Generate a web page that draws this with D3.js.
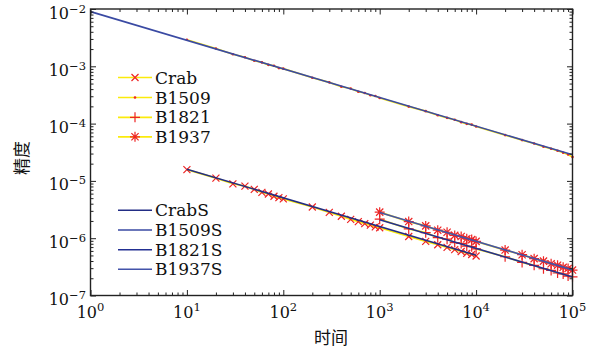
<!DOCTYPE html>
<html>
<head>
<meta charset="utf-8">
<script src="https://cdn.jsdelivr.net/npm/d3@7"></script>
<style>
  body { margin: 0; background: #fff; }
  svg text { font-family: "DejaVu Serif", serif; fill: #111; }
</style>
</head>
<body>
<div id="chart"></div>
<script>
// ---- datos ----
const crabTimes = [10, 20, 30, 40, 50, 60, 70, 80, 90, 100,
  200, 300, 400, 500, 600, 700, 800, 900, 1000,
  2000, 3000, 4000, 5000, 6000, 7000, 8000, 9000, 10000]
const crabValues = [1.57e-5, 1.12e-5, 8.9e-6, 8.1e-6, 7.1e-6, 6.3e-6, 5.9e-6, 5.4e-6, 5.1e-6, 4.85e-6,
  3.5e-6, 2.82e-6, 2.42e-6, 2.13e-6, 1.95e-6, 1.80e-6, 1.69e-6, 1.58e-6, 1.52e-6,
  1.07e-6, 8.8e-7, 7.7e-7, 6.9e-7, 6.3e-7, 5.85e-7, 5.45e-7, 5.2e-7, 4.9e-7]

const b1509Times = [10, 20, 30, 40, 50, 60, 70, 80, 90, 100,
  200, 300, 400, 500, 600, 700, 800, 900, 1000,
  2000, 3000, 4000, 5000, 6000, 7000, 8000, 9000, 10000,
  20000, 30000, 40000, 50000, 60000, 70000, 80000, 90000, 100000]
const b1509Values = [2.9e-3, 2.05e-3, 1.62e-3, 1.44e-3, 1.25e-3, 1.17e-3, 1.06e-3, 1.02e-3, 9.3e-4, 9.1e-4,
  6.3e-4, 5.25e-4, 4.4e-4, 4.1e-4, 3.6e-4, 3.42e-4, 3.12e-4, 3.03e-4, 2.8e-4,
  1.98e-4, 1.65e-4, 1.40e-4, 1.26e-4, 1.17e-4, 1.06e-4, 9.9e-5, 9.6e-5, 8.9e-5,
  6.3e-5, 5.15e-5, 4.5e-5, 3.95e-5, 3.65e-5, 3.35e-5, 3.1e-5, 2.9e-5, 2.6e-5]

const msTimes = [1000, 2000, 3000, 4000, 5000, 6000, 7000, 8000, 9000, 10000,
  20000, 30000, 40000, 50000, 60000, 70000, 80000, 90000, 100000]
const b1821Values = [2.15e-6, 1.45e-6, 1.25e-6, 1.02e-6, 9.6e-7, 8.4e-7, 8.1e-7, 7.3e-7, 7.1e-7, 6.5e-7,
  4.75e-7, 3.78e-7, 3.36e-7, 2.93e-7, 2.74e-7, 2.47e-7, 2.38e-7, 2.18e-7, 2.12e-7]
const b1937Values = [2.85e-6, 1.95e-6, 1.64e-6, 1.38e-6, 1.27e-6, 1.12e-6, 1.07e-6, 9.8e-7, 9.45e-7, 8.8e-7,
  6.2e-7, 5.15e-7, 4.4e-7, 3.98e-7, 3.58e-7, 3.38e-7, 3.1e-7, 2.97e-7, 2.78e-7]

// rectas ajustadas (extremos)
const crabFit = [[10, 1.6e-5], [10000, 5.06e-7]]
const b1509Fit = [[1, 9.0e-3], [100000, 2.85e-5]]
const b1821Fit = [[1000, 2.1e-6], [100000, 2.1e-7]]
const b1937Fit = [[1000, 2.8e-6], [100000, 2.8e-7]]

const xTickValues = [1, 10, 100, 1000, 10000, 100000]
const yTickValues = [1e-7, 1e-6, 1e-5, 1e-4, 1e-3, 1e-2]
const xLabel = '时间'
const yLabel = '精度'

// ---- configuración ----
const width = 600, height = 349
const plot = { left: 90.5, right: 572.5, top: 9, bottom: 295.5 }
const colors = { yellow: '#fbeb0c', red: '#ee2424', ink: '#222' }

const x = d3.scaleLog().domain([1, 1e5]).range([plot.left, plot.right])
const y = d3.scaleLog().domain([1e-7, 1e-2]).range([plot.bottom, plot.top])

const svg = d3.select('#chart').append('svg')
  .attr('width', width).attr('height', height)

const line = d3.line().x(d => x(d[0])).y(d => y(d[1]))

// series de datos (amarillo + marcadores rojos)
const series = [
  { name: 'Crab', t: crabTimes, v: crabValues, marker: 'x' },
  { name: 'B1509', t: b1509Times, v: b1509Values, marker: 'dot' },
  { name: 'B1821', t: msTimes, v: b1821Values, marker: 'plus' },
  { name: 'B1937', t: msTimes, v: b1937Values, marker: 'star' },
]
const fits = [
  { name: 'CrabS', pts: crabFit, color: '#222d85' },
  { name: 'B1509S', pts: b1509Fit, color: '#3a4aa3' },
  { name: 'B1821S', pts: b1821Fit, color: '#222f92' },
  { name: 'B1937S', pts: b1937Fit, color: '#4353aa' },
]

function markerPath(type) {
  if (type === 'x') return 'M-3.5,-3.5L3.5,3.5M-3.5,3.5L3.5,-3.5'
  if (type === 'plus') return 'M-5,0L5,0M0,-5L0,5'
  if (type === 'star') return 'M-5,0L5,0M0,-5L0,5M-3.6,-3.6L3.6,3.6M-3.6,3.6L3.6,-3.6'
  return null
}

function drawMarker(g, type, cx, cy) {
  if (type === 'dot') {
    g.append('circle').attr('cx', cx).attr('cy', cy).attr('r', 1.3).attr('fill', colors.red)
  } else {
    g.append('path').attr('d', markerPath(type))
      .attr('transform', `translate(${cx},${cy})`)
      .attr('stroke', colors.red).attr('stroke-width', 1.2).attr('fill', 'none')
  }
}

const dataG = svg.append('g')
series.forEach(s => {
  const pts = s.t.map((t, i) => [t, s.v[i]])
  dataG.append('path').datum(pts).attr('d', line)
    .attr('fill', 'none').attr('stroke', colors.yellow).attr('stroke-width', 1.7)
  const mg = dataG.append('g')
  pts.forEach(p => drawMarker(mg, s.marker, x(p[0]), y(p[1])))
})

// rectas de ajuste (encima)
fits.forEach(f => {
  svg.append('path').datum(f.pts).attr('d', line)
    .attr('fill', 'none').attr('stroke', f.color).attr('stroke-width', 1.6)
})

// ---- ejes con marcas hacia dentro ----
const minorX = x.ticks().filter(v => !xTickValues.includes(v))
const minorY = y.ticks().filter(v => !yTickValues.some(m => Math.abs(m - v) / m < 1e-6))

function tickAxis(axisFn, scale, values, size, transform) {
  const g = svg.append('g').attr('transform', transform)
    .call(axisFn(scale).tickValues(values).tickSize(-size).tickSizeOuter(0).tickFormat(''))
  g.select('.domain').remove()
  g.selectAll('.tick line').attr('stroke', colors.ink).attr('stroke-width', 1)
  return g
}
tickAxis(d3.axisBottom, x, minorX, 3, `translate(0,${plot.bottom})`)
tickAxis(d3.axisBottom, x, xTickValues, 5.5, `translate(0,${plot.bottom})`)
tickAxis(d3.axisTop, x, minorX, 3, `translate(0,${plot.top})`)
tickAxis(d3.axisTop, x, xTickValues, 5.5, `translate(0,${plot.top})`)
tickAxis(d3.axisLeft, y, minorY, 3, `translate(${plot.left},0)`)
tickAxis(d3.axisLeft, y, yTickValues, 5.5, `translate(${plot.left},0)`)
tickAxis(d3.axisRight, y, minorY, 3, `translate(${plot.right},0)`)
tickAxis(d3.axisRight, y, yTickValues, 5.5, `translate(${plot.right},0)`)

svg.append('rect')
  .attr('x', plot.left).attr('y', plot.top)
  .attr('width', plot.right - plot.left).attr('height', plot.bottom - plot.top)
  .attr('fill', 'none').attr('stroke', colors.ink).attr('stroke-width', 1.4)

// etiquetas de las marcas: 10^n
const expText = v => {
  const e = Math.round(Math.log10(v))
  return (e < 0 ? '\u2212' : '') + Math.abs(e)
}
xTickValues.forEach(v => {
  const t = svg.append('text').attr('x', x(v)).attr('y', 318)
    .attr('text-anchor', 'middle').style('font-size', '16px')
  t.append('tspan').text('10')
  t.append('tspan').attr('dy', -7).style('font-size', '11.5px').text(expText(v))
})
yTickValues.forEach(v => {
  const t = svg.append('text').attr('x', 86).attr('y', y(v) + 9.5)
    .attr('text-anchor', 'end').style('font-size', '16px')
  t.append('tspan').text('10')
  t.append('tspan').attr('dy', -6).style('font-size', '11.5px').text(expText(v))
})

// títulos de ejes
svg.append('text').attr('x', 331).attr('y', 344)
  .attr('text-anchor', 'middle')
  .style('font-family', '"Noto Sans CJK SC"').style('font-size', '17px')
  .text(xLabel)
svg.append('text')
  .attr('transform', 'translate(28,158) rotate(-90)')
  .attr('text-anchor', 'middle')
  .style('font-family', '"Noto Sans CJK SC"').style('font-size', '17px')
  .text(yLabel)

// ---- leyendas ----
const legend1Y = [77.5, 97.5, 117.3, 136.8]
const legend2Y = [210.3, 230, 249.7, 269.3]
series.forEach((s, i) => {
  const ly = legend1Y[i]
  svg.append('line').attr('x1', 118).attr('x2', 152).attr('y1', ly).attr('y2', ly)
    .attr('stroke', colors.yellow).attr('stroke-width', 1.7)
  drawMarker(svg, s.marker, 135, ly)
  svg.append('text').attr('x', 155).attr('y', ly + 6).style('font-size', '17px').text(s.name)
})
fits.forEach((f, i) => {
  const ly = legend2Y[i]
  svg.append('line').attr('x1', 118).attr('x2', 152).attr('y1', ly).attr('y2', ly)
    .attr('stroke', f.color).attr('stroke-width', 1.6)
  svg.append('text').attr('x', 155).attr('y', ly + 6).style('font-size', '17px').text(f.name)
})
</script>
</body>
</html>
